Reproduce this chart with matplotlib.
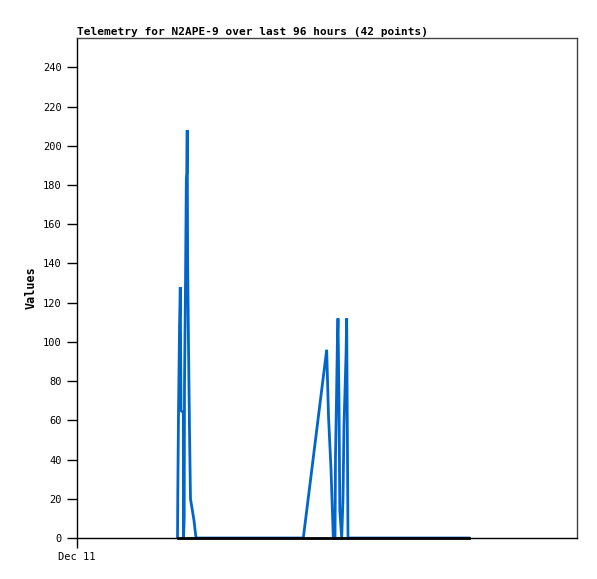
import matplotlib
matplotlib.use("Agg")
import matplotlib.pyplot as plt

# hours since Dec 11 00:00, telemetry values
hours = [19.30, 19.35, 19.49, 19.68, 19.83, 19.97, 20.41, 20.45, 20.58, 20.64,
         20.83, 20.99, 21.08, 21.16, 21.24, 21.41, 21.60, 21.79, 22.46, 22.85,
         43.45, 47.94, 48.29, 48.77, 49.21, 49.54, 49.63, 49.82, 49.98, 50.11,
         50.30, 50.46, 50.82, 51.07, 51.26, 51.65, 51.78, 51.90, 52.03, 60.00,
         68.00, 75.26]
values = [0, 22, 64, 107, 128, 65, 64, 0, 10, 78,
          130, 183, 186, 208, 142, 98, 55, 20, 9, 0,
          0, 96, 62, 35, 0, 0, 42, 70, 98, 112,
          70, 14, 0, 20, 57, 93, 112, 57, 0, 0,
          0, 0]

title = "Telemetry for N2APE-9 over last 96 hours (42 points)"
ylabel = "Values"
yticks = list(range(0, 241, 20))
xtick_labels = ["Dec 11"]

mono = "DejaVu Sans Mono"

fig = plt.figure(figsize=(5.97, 5.79), dpi=100)
ax = fig.add_axes([77 / 597, 41 / 579, 500 / 597, 500 / 579])

ax.plot(hours, values, color="#0066CC", lw=2, solid_joinstyle="miter", zorder=2)
# zero runs show as a heavy black baseline
ax.plot([hours[0], hours[-1]], [0, 0], color="black", lw=2, zorder=3, clip_on=False)

ax.set_xlim(0, 96)
ax.set_ylim(0, 255)
ax.set_yticks(yticks)
ax.set_xticks([0])
ax.set_xticklabels(xtick_labels)

for lbl in ax.get_xticklabels() + ax.get_yticklabels():
    lbl.set_fontfamily(mono)
    lbl.set_fontsize(7.5)

ax.tick_params(axis="both", direction="out", length=7, width=1, color="black", pad=4)
ax.tick_params(axis="x", pad=3)

for side in ["left", "bottom"]:
    ax.spines[side].set_color("black")
    ax.spines[side].set_linewidth(1)
for side in ["top", "right"]:
    ax.spines[side].set_color("#444444")
    ax.spines[side].set_linewidth(1)

ax.set_title(title, loc="left", fontfamily=mono, fontweight="bold", fontsize=8, pad=2)
ax.set_ylabel(ylabel, fontfamily=mono, fontweight="bold", fontsize=8.5, labelpad=4)

fig.savefig("out.png", dpi=100)
